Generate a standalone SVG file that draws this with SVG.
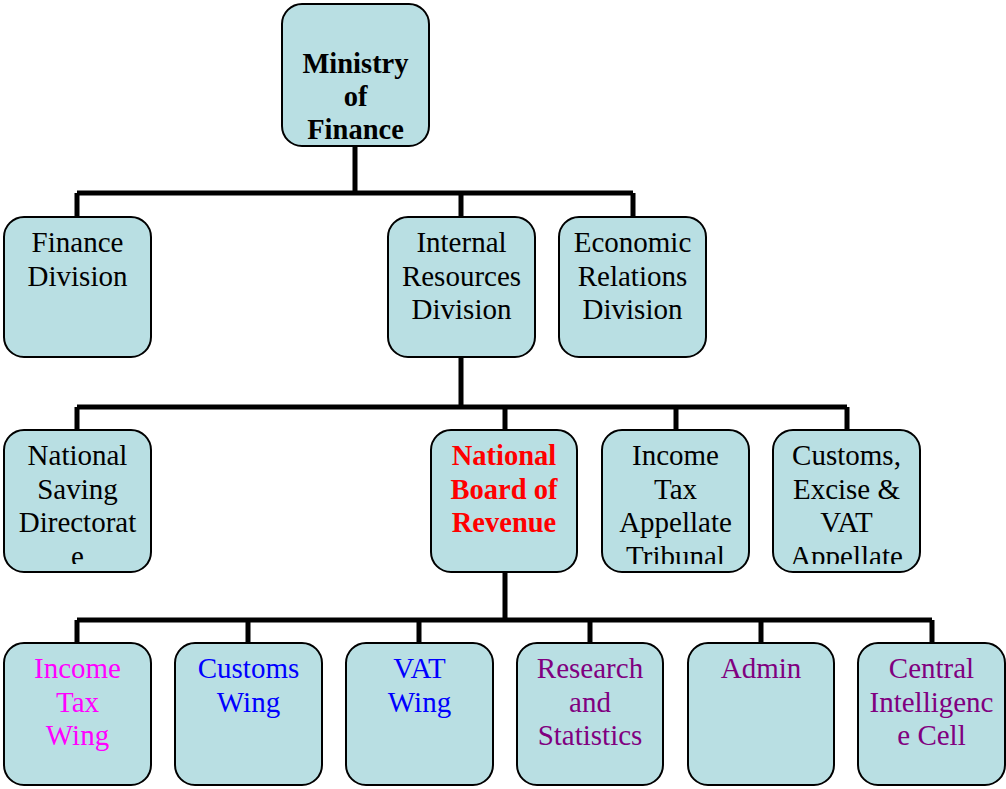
<svg xmlns="http://www.w3.org/2000/svg" width="1006" height="789" viewBox="0 0 1006 789">
<defs>
<style>
.box{fill:#B9DFE3;stroke:#000;stroke-width:2}
.t{font-family:"Liberation Serif","Times New Roman",serif;font-size:29px;text-anchor:middle;fill:#000}
.b{font-weight:bold;font-size:28.5px}
.red{fill:#FF0000}
.mag{fill:#FF00FF}
.blue{fill:#0000FF}
.pur{fill:#800080}
.ln{stroke:#000;stroke-width:5;fill:none}
</style>
<clipPath id="c0"><rect x="284" y="6" width="142" height="135"/></clipPath>
<clipPath id="cr3"><rect x="0" y="432" width="1006" height="132"/></clipPath>
</defs>
<rect width="1006" height="789" fill="#fff"/>
<g id="connectors">
<path class="ln" d="M355 146V193M77 193H633M77 193V217M461 193V217M633 193V217"/>
<path class="ln" d="M461 358V407M77 407H847M77 407V430M505 407V430M676 407V430M847 407V430"/>
<path class="ln" d="M505 573V620M77 620H932M77 620V643M248 620V643M419 620V643M590 620V643M761 620V643M932 620V643"/>
</g>
<g id="ministry">
<rect class="box" x="282" y="4" width="147" height="142" rx="20"/>
<g clip-path="url(#c0)"><text class="t b" x="355.5" y="73">Ministry</text><text class="t b" x="355.5" y="106">of</text><text class="t b" x="355.5" y="139">Finance</text></g>
</g>
<g id="finance-division">
<rect class="box" x="4" y="217" width="147" height="140" rx="20"/>
<text class="t" x="77.5" y="252">Finance</text><text class="t" x="77.5" y="286">Division</text>
</g>
<g id="ird">
<rect class="box" x="388" y="217" width="147" height="140" rx="20"/>
<text class="t" x="461.5" y="252">Internal</text><text class="t" x="461.5" y="286">Resources</text><text class="t" x="461.5" y="319">Division</text>
</g>
<g id="erd">
<rect class="box" x="559" y="217" width="147" height="140" rx="20"/>
<text class="t" x="632.5" y="252">Economic</text><text class="t" x="632.5" y="286">Relations</text><text class="t" x="632.5" y="319">Division</text>
</g>
<g id="nsd">
<rect class="box" x="4" y="430" width="147" height="142" rx="20"/>
<g clip-path="url(#cr3)"><text class="t" x="77.5" y="465">National</text><text class="t" x="77.5" y="499">Saving</text><text class="t" x="77.5" y="532">Directorat</text><text class="t" x="77.5" y="566">e</text></g>
</g>
<g id="nbr">
<rect class="box" x="431" y="430" width="146" height="142" rx="20"/>
<text class="t b red" x="504" y="465">National</text><text class="t b red" x="504" y="499">Board of</text><text class="t b red" x="504" y="532">Revenue</text>
</g>
<g id="itat">
<rect class="box" x="602" y="430" width="147" height="142" rx="20"/>
<g clip-path="url(#cr3)"><text class="t" x="675.5" y="465">Income</text><text class="t" x="675.5" y="499">Tax</text><text class="t" x="675.5" y="532">Appellate</text><text class="t" x="675.5" y="566">Tribunal</text></g>
</g>
<g id="cevat">
<rect class="box" x="773" y="430" width="147" height="142" rx="20"/>
<g clip-path="url(#cr3)"><text class="t" x="846.5" y="465">Customs,</text><text class="t" x="846.5" y="499">Excise &amp;</text><text class="t" x="846.5" y="532">VAT</text><text class="t" x="846.5" y="566">Appellate</text></g>
</g>
<g id="income-tax-wing">
<rect class="box" x="4" y="643" width="147" height="142" rx="20"/>
<text class="t mag" x="77.5" y="678">Income</text><text class="t mag" x="77.5" y="712">Tax</text><text class="t mag" x="77.5" y="745">Wing</text>
</g>
<g id="customs-wing">
<rect class="box" x="175" y="643" width="147" height="142" rx="20"/>
<text class="t blue" x="248.5" y="678">Customs</text><text class="t blue" x="248.5" y="712">Wing</text>
</g>
<g id="vat-wing">
<rect class="box" x="346" y="643" width="147" height="142" rx="20"/>
<text class="t blue" x="419.5" y="678">VAT</text><text class="t blue" x="419.5" y="712">Wing</text>
</g>
<g id="research">
<rect class="box" x="517" y="643" width="146" height="142" rx="20"/>
<text class="t pur" x="590" y="678">Research</text><text class="t pur" x="590" y="712">and</text><text class="t pur" x="590" y="745">Statistics</text>
</g>
<g id="admin">
<rect class="box" x="688" y="643" width="146" height="142" rx="20"/>
<text class="t pur" x="761" y="678">Admin</text>
</g>
<g id="cic">
<rect class="box" x="858" y="643" width="147" height="142" rx="20"/>
<text class="t pur" x="931.5" y="678">Central</text><text class="t pur" x="931.5" y="712">Intelligenc</text><text class="t pur" x="931.5" y="745">e Cell</text>
</g>
</svg>
